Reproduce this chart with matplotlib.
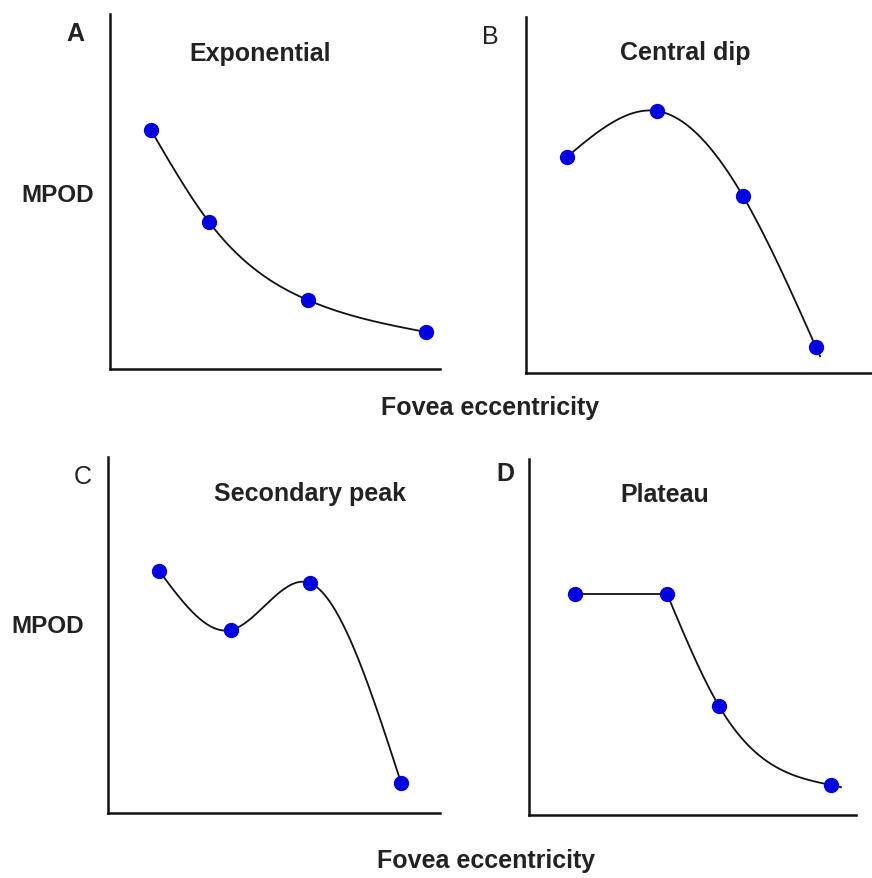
import numpy as np
import matplotlib
matplotlib.use("Agg")
import matplotlib.pyplot as plt

plt.rcParams['font.family'] = ['Liberation Sans', 'DejaVu Sans']

# eccentricity / MPOD values for each profile (arbitrary units 0-100)
exp_x = [12.4, 30.0, 60.0, 95.8]
exp_y = [67.3, 41.4, 19.4, 10.4]

dip_x = [11.8, 37.9, 62.7, 83.8]
dip_y = [60.7, 73.6, 49.7, 7.3]

sec_x = [15.4, 37.0, 60.8, 88.3]
sec_y = [68.0, 51.4, 64.6, 8.4]

plat_x = [14.1, 42.2, 58.1, 92.4]
plat_y = [62.1, 62.1, 30.6, 8.4]

titles = ["Exponential", "Central dip", "Secondary peak", "Plateau"]
letters = ["A", "B", "C", "D"]

W, H = 872, 879


def spline(xs, ys, extra=0.0, n=200):
    # natural cubic spline through the points
    x = np.asarray(xs, float)
    y = np.asarray(ys, float)
    k = len(x)
    h = np.diff(x)
    A = np.zeros((k, k))
    rhs = np.zeros(k)
    A[0, 0] = A[-1, -1] = 1
    for i in range(1, k - 1):
        A[i, i - 1] = h[i - 1]
        A[i, i] = 2 * (h[i - 1] + h[i])
        A[i, i + 1] = h[i]
        rhs[i] = 6 * ((y[i + 1] - y[i]) / h[i] - (y[i] - y[i - 1]) / h[i - 1])
    M = np.linalg.solve(A, rhs)
    xx = np.linspace(x[0], x[-1] + extra, n)
    idx = np.clip(np.searchsorted(x, xx) - 1, 0, k - 2)
    x0, x1 = x[idx], x[idx + 1]
    hi = x1 - x0
    a = (x1 - xx) / hi
    b = (xx - x0) / hi
    yy = (a * y[idx] + b * y[idx + 1]
          + ((a ** 3 - a) * M[idx] + (b ** 3 - b) * M[idx + 1]) * hi ** 2 / 6)
    return xx, yy


fig = plt.figure(figsize=(W / 100, H / 100), dpi=100)
fig.patch.set_facecolor("white")

# axes boxes in pixels: left, right, top, bottom
boxes = [(110, 440, 15, 370), (526, 872, 18, 374),
         (108, 440, 458, 814), (529, 856, 460, 816)]

axes = []
for (l, r, t, b) in boxes:
    ax = fig.add_axes([l / W, 1 - b / H, (r - l) / W, (b - t) / H])
    ax.set_xlim(0, 100)
    ax.set_ylim(0, 100)
    for s in ["top", "right"]:
        ax.spines[s].set_visible(False)
    for s in ["left", "bottom"]:
        ax.spines[s].set_linewidth(1.8)
        ax.spines[s].set_color("#111111")
    ax.set_xticks([])
    ax.set_yticks([])
    ax.patch.set_alpha(0)
    axes.append(ax)

line_kw = dict(color="#111111", lw=1.3, zorder=2)
mk_kw = dict(ls="none", marker="o", ms=10, color="#0000e0", zorder=3)

for ax, xs, ys, ext in [(axes[0], exp_x, exp_y, 0), (axes[1], dip_x, dip_y, 1.2),
                        (axes[2], sec_x, sec_y, 0)]:
    sx, sy = spline(xs, ys, ext)
    ax.plot(sx, sy, **line_kw)
    ax.plot(xs, ys, **mk_kw)

# plateau: flat part then falloff
axes[3].plot(plat_x[:2], plat_y[:2], **line_kw)
sx, sy = spline(plat_x[1:], plat_y[1:], 3.0)
axes[3].plot(sx, sy, **line_kw)
axes[3].plot(plat_x, plat_y, **mk_kw)

title_pos = [(260, 54), (685, 53), (310, 494), (665, 495)]
letter_pos = [(75, 34), (490, 37), (83, 477), (505, 474)]
letter_w = ["bold", "normal", "normal", "bold"]
fs = 18

for i in range(4):
    fig.text(title_pos[i][0] / W, 1 - title_pos[i][1] / H, titles[i],
             ha="center", va="center", fontsize=fs, fontweight="bold",
             color="#222222")
    fig.text(letter_pos[i][0] / W, 1 - letter_pos[i][1] / H, letters[i],
             ha="center", va="center", fontsize=fs, fontweight=letter_w[i],
             color="#222222")

fig.text(58 / W, 1 - 196 / H, "MPOD", ha="center", va="center",
         fontsize=17.5, fontweight="bold", color="#222222")
fig.text(48 / W, 1 - 627 / H, "MPOD", ha="center", va="center",
         fontsize=17.5, fontweight="bold", color="#222222")
fig.text(490 / W, 1 - 408 / H, "Fovea eccentricity", ha="center", va="center",
         fontsize=fs, fontweight="bold", color="#222222")
fig.text(486 / W, 1 - 861 / H, "Fovea eccentricity", ha="center", va="center",
         fontsize=fs, fontweight="bold", color="#222222")

fig.savefig("out.png", dpi=100, facecolor="white")
